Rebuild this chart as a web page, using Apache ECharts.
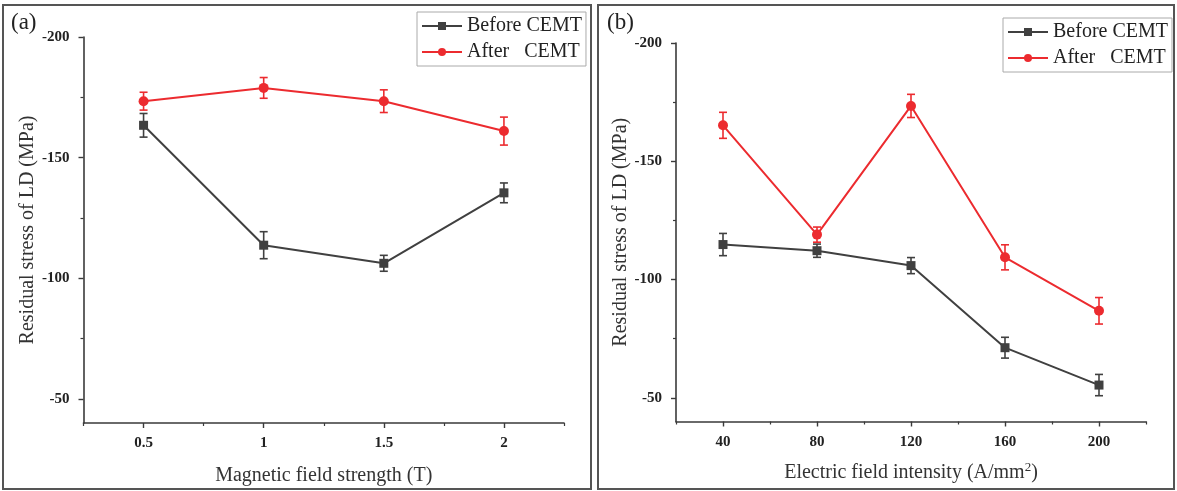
<!DOCTYPE html>
<html>
<head>
<meta charset="utf-8">
<script src="https://cdn.jsdelivr.net/npm/echarts@6/dist/echarts.min.js"></script>
<style>
html,body{margin:0;padding:0;background:#fff;}
#c{width:1177px;height:491px;}
</style>
</head>
<body>
<div id="c"></div>
<script>
// ---- data ----
const seriesNames = ['Before CEMT', 'After   CEMT'];
// panel (a)
const xA = [0.5, 1, 1.5, 2];
const beforeA = [-163.4, -113.7, -106.2, -135.4];
const beforeAErr = [4.9, 5.6, 3.3, 4.1];
const afterA = [-173.4, -178.9, -173.4, -161.0];
const afterAErr = [3.7, 4.3, 4.7, 5.8];
// panel (b)
const xB = [40, 80, 120, 160, 200];
const beforeB = [-114.8, -112.2, -105.9, -71.2, -55.4];
const beforeBErr = [4.7, 2.8, 3.4, 4.4, 4.5];
const afterB = [-165.2, -119.0, -173.4, -109.4, -86.8];
const afterBErr = [5.5, 3.2, 4.9, 5.3, 5.6];
// ticks
const yTicks = [-200, -150, -100, -50];
const yMinorTicks = [-175, -125, -75];
const xATicks = [0.5, 1, 1.5, 2];
const xAMinorTicks = [0.25, 0.75, 1.25, 1.75, 2.25];
const xBTicks = [40, 80, 120, 160, 200];
const xBMinorTicks = [20, 60, 100, 140, 180, 220];

const FONT = '"Liberation Serif", "DejaVu Serif", serif';
const AX = '#3a3a3a';
const RED = '#ec2b2f';
const DARK = '#404040';

function mainX(grid, min, max, ticks, name, gap, extra) {
  return Object.assign({
    type: 'value', gridIndex: grid, min: min, max: max, position: 'bottom',
    name: name, nameLocation: 'middle', nameGap: gap,
    nameTextStyle: { fontFamily: FONT, fontSize: 20, color: '#333' },
    axisLine: { show: true, onZero: false, lineStyle: { color: AX, width: 1.6 } },
    axisTick: { show: true, inside: false, length: 5, customValues: ticks, lineStyle: { color: AX, width: 1.4 } },
    axisLabel: { customValues: ticks, margin: 13, fontFamily: FONT, fontSize: 15, fontWeight: 'bold', color: '#222',
      formatter: v => String(v) },
    splitLine: { show: false }
  }, extra || {});
}
function minorX(grid, min, max, ticks) {
  return {
    type: 'value', gridIndex: grid, min: min, max: max, position: 'bottom',
    axisLine: { show: false, onZero: false },
    axisTick: { show: true, length: 3, customValues: ticks, lineStyle: { color: AX, width: 1.2 } },
    axisLabel: { show: false }, splitLine: { show: false }
  };
}
function mainY(grid, gap) {
  return {
    type: 'value', gridIndex: grid, min: -200, max: -40, inverse: true, position: 'left',
    name: 'Residual stress of LD (MPa)', nameLocation: 'middle', nameGap: gap,
    nameTextStyle: { fontFamily: FONT, fontSize: 20, color: '#333' },
    axisLine: { show: true, onZero: false, lineStyle: { color: AX, width: 1.6 } },
    axisTick: { show: true, inside: false, length: 5, customValues: yTicks, lineStyle: { color: AX, width: 1.4 } },
    axisLabel: { customValues: yTicks, margin: 14, fontFamily: FONT, fontSize: 15, fontWeight: 'bold', color: '#222',
      formatter: v => String(v) },
    splitLine: { show: false }
  };
}
function minorY(grid) {
  return {
    type: 'value', gridIndex: grid, min: -200, max: -40, inverse: true, position: 'left',
    axisLine: { show: false, onZero: false },
    axisTick: { show: true, length: 3, customValues: yMinorTicks, lineStyle: { color: AX, width: 1.2 } },
    axisLabel: { show: false }, splitLine: { show: false }
  };
}
function lineSeries(name, xs, ys, color, symbol, size, xi, yi) {
  return {
    type: 'line', name: name, xAxisIndex: xi, yAxisIndex: yi,
    data: xs.map((x, i) => [x, ys[i]]),
    symbol: symbol, symbolSize: size, showSymbol: true,
    lineStyle: { color: color, width: 2 },
    itemStyle: { color: color },
    z: 3, animation: false
  };
}
function errSeries(id, xs, ys, errs, color, xi, yi) {
  return {
    type: 'custom', id: id, xAxisIndex: xi, yAxisIndex: yi,
    data: xs.map((x, i) => [x, ys[i] - errs[i], ys[i] + errs[i]]),
    encode: { x: 0, y: [1, 2] },
    renderItem: function (params, api) {
      const x = api.value(0);
      const lo = api.coord([x, api.value(1)]);
      const hi = api.coord([x, api.value(2)]);
      const w = 4;
      const st = { stroke: color, lineWidth: 1.6 };
      return {
        type: 'group', children: [
          { type: 'line', shape: { x1: lo[0], y1: lo[1], x2: hi[0], y2: hi[1] }, style: st },
          { type: 'line', shape: { x1: lo[0] - w, y1: lo[1], x2: lo[0] + w, y2: lo[1] }, style: st },
          { type: 'line', shape: { x1: hi[0] - w, y1: hi[1], x2: hi[0] + w, y2: hi[1] }, style: st }
        ]
      };
    },
    z: 2, animation: false
  };
}
function legend(left, top) {
  return {
    orient: 'vertical', left: left, top: top,
    data: seriesNames,
    itemWidth: 40, itemHeight: 10, itemGap: 6,
    padding: [4, 4, 4, 4],
    borderColor: '#aaa', borderWidth: 1,
    textStyle: { fontFamily: FONT, fontSize: 20, color: '#222' },
    selectedMode: false
  };
}

const chart = echarts.init(document.getElementById('c'), null, { renderer: 'canvas' });
chart.setOption({
  backgroundColor: '#fff',
  animation: false,
  grid: [
    { left: 83.5, top: 37, width: 480.5, height: 388 },
    { left: 676, top: 43, width: 470, height: 378.5 }
  ],
  xAxis: [
    mainX(0, 0.25, 2.25, xATicks, 'Magnetic field strength (T)', 43),
    minorX(0, 0.25, 2.25, xAMinorTicks),
    mainX(1, 20, 220, xBTicks, 'Electric field intensity (A/mm{sup|2})', 40, {
      nameTextStyle: { fontFamily: FONT, fontSize: 20, color: '#333',
        rich: { sup: { fontFamily: FONT, fontSize: 13, color: '#333', verticalAlign: 'top', padding: [0, 0, 9, 0] } } }
    }),
    minorX(1, 20, 220, xBMinorTicks)
  ],
  yAxis: [ mainY(0, 46), minorY(0), mainY(1, 42.5), minorY(1) ],
  legend: [ legend(417, 12), legend(1003, 18) ],
  series: [
    errSeries('errBeforeA', xA, beforeA, beforeAErr, DARK, 0, 0),
    errSeries('errAfterA', xA, afterA, afterAErr, RED, 0, 0),
    lineSeries('Before CEMT', xA, beforeA, DARK, 'rect', 9, 0, 0),
    lineSeries('After   CEMT', xA, afterA, RED, 'circle', 10, 0, 0),
    errSeries('errBeforeB', xB, beforeB, beforeBErr, DARK, 2, 2),
    errSeries('errAfterB', xB, afterB, afterBErr, RED, 2, 2),
    lineSeries('Before CEMT', xB, beforeB, DARK, 'rect', 9, 2, 2),
    lineSeries('After   CEMT', xB, afterB, RED, 'circle', 10, 2, 2)
  ],
  graphic: [
    { type: 'rect', shape: { x: 3, y: 5, width: 588, height: 484 }, style: { fill: 'none', stroke: '#555', lineWidth: 2 }, z: 10 },
    { type: 'rect', shape: { x: 598, y: 5, width: 576, height: 484 }, style: { fill: 'none', stroke: '#555', lineWidth: 2 }, z: 10 },
    { type: 'text', left: 11, top: 11, style: { text: '(a)', font: '23px ' + FONT, fill: '#222' } },
    { type: 'text', left: 607, top: 11, style: { text: '(b)', font: '23px ' + FONT, fill: '#222' } }
  ]
});
</script>
</body>
</html>
